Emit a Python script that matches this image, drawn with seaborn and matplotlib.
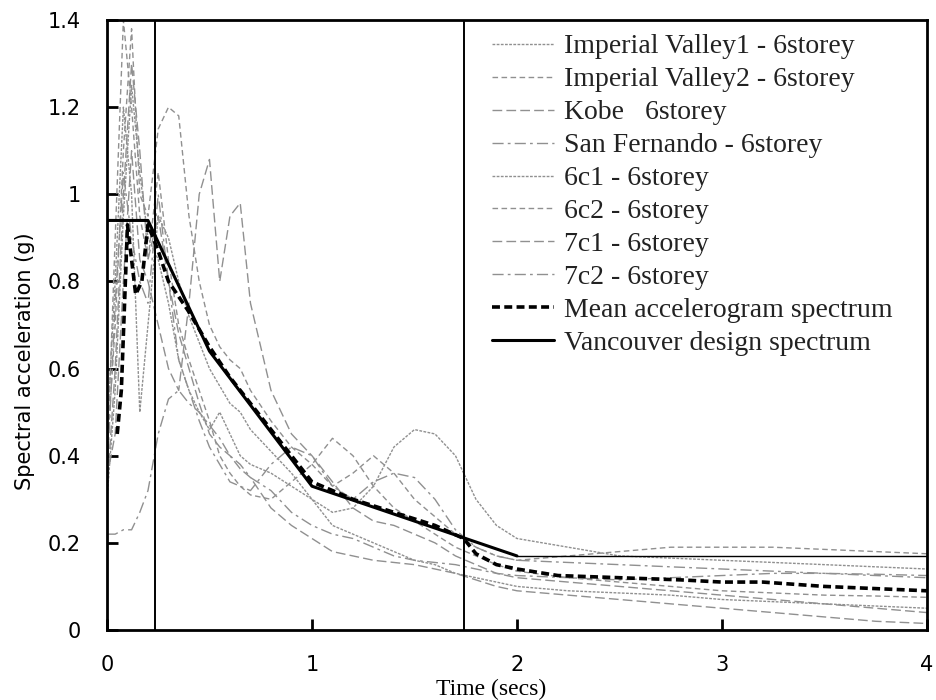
import matplotlib
matplotlib.use("Agg")
import matplotlib.pyplot as plt
import seaborn as sns
import numpy as np

# ---------------- data ----------------
t = [0.0, 0.04, 0.08, 0.12, 0.16, 0.2, 0.25, 0.3, 0.35, 0.4, 0.45, 0.5, 0.55, 0.6,
     0.65, 0.7, 0.8, 0.9, 1.0, 1.1, 1.2, 1.3, 1.4, 1.5, 1.6, 1.7, 1.8, 1.9, 2.0,
     2.25, 2.5, 2.75, 3.0, 3.25, 3.5, 3.75, 4.0]

imperial_valley1 = [0.30, 0.55, 0.95, 1.25, 1.05, 0.90, 0.85, 0.75, 0.62, 0.55, 0.50, 0.46,
                    0.50, 0.45, 0.40, 0.38, 0.36, 0.33, 0.30, 0.27, 0.28, 0.33, 0.42, 0.46,
                    0.45, 0.40, 0.30, 0.24, 0.21, 0.19, 0.17, 0.165, 0.16, 0.155, 0.15,
                    0.145, 0.14]
imperial_valley2 = [0.40, 0.70, 1.10, 1.38, 1.00, 0.95, 1.15, 1.20, 1.18, 0.95, 0.80, 0.70,
                    0.65, 0.62, 0.60, 0.55, 0.48, 0.42, 0.38, 0.33, 0.36, 0.40, 0.36, 0.30,
                    0.26, 0.22, 0.19, 0.17, 0.16, 0.17, 0.18, 0.19, 0.19, 0.19, 0.185,
                    0.18, 0.175]
kobe = [0.35, 0.45, 0.80, 1.10, 0.85, 0.80, 0.70, 0.60, 0.55, 0.75, 1.00, 1.08, 0.80, 0.95,
        0.98, 0.75, 0.55, 0.45, 0.40, 0.34, 0.28, 0.25, 0.24, 0.22, 0.20, 0.17, 0.15, 0.13,
        0.12, 0.11, 0.10, 0.09, 0.08, 0.07, 0.06, 0.05, 0.04]
san_fernando = [0.22, 0.22, 0.23, 0.23, 0.27, 0.32, 0.45, 0.53, 0.55, 0.52, 0.50, 0.47,
                0.44, 0.40, 0.38, 0.35, 0.32, 0.27, 0.24, 0.22, 0.21, 0.19, 0.17, 0.16,
                0.155, 0.15, 0.14, 0.13, 0.125, 0.12, 0.115, 0.12, 0.125, 0.13, 0.13,
                0.125, 0.12]
c6_1 = [0.45, 0.80, 1.20, 1.00, 0.50, 0.70, 0.95, 0.90, 0.80, 0.72, 0.66, 0.60, 0.56, 0.52,
        0.50, 0.46, 0.41, 0.36, 0.30, 0.24, 0.22, 0.20, 0.18, 0.16, 0.15, 0.13, 0.12, 0.11,
        0.10, 0.09, 0.085, 0.08, 0.07, 0.065, 0.06, 0.055, 0.05]
c6_2 = [0.38, 0.90, 1.40, 1.20, 0.95, 0.85, 1.05, 0.85, 0.70, 0.62, 0.55, 0.48, 0.40, 0.36,
        0.33, 0.31, 0.30, 0.34, 0.38, 0.44, 0.40, 0.33, 0.28, 0.25, 0.22, 0.19, 0.17, 0.15,
        0.135, 0.12, 0.11, 0.10, 0.09, 0.085, 0.08, 0.078, 0.075]
c7_1 = [0.32, 0.60, 1.00, 1.30, 1.10, 0.85, 0.95, 0.80, 0.68, 0.60, 0.52, 0.45, 0.42, 0.40,
        0.37, 0.35, 0.28, 0.24, 0.21, 0.18, 0.17, 0.16, 0.155, 0.15, 0.14, 0.13, 0.115, 0.10,
        0.09, 0.08, 0.07, 0.06, 0.05, 0.04, 0.03, 0.02, 0.015]
c7_2 = [0.35, 0.75, 1.05, 0.90, 0.80, 0.75, 1.00, 0.80, 0.62, 0.55, 0.48, 0.42, 0.38, 0.34,
        0.33, 0.32, 0.38, 0.42, 0.40, 0.33, 0.30, 0.34, 0.36, 0.35, 0.30, 0.23, 0.19, 0.17,
        0.16, 0.155, 0.15, 0.145, 0.14, 0.135, 0.13, 0.128, 0.125]

mean_t = [0.05, 0.07, 0.1, 0.14, 0.17, 0.2, 0.25, 0.3, 0.4, 0.5, 0.6, 0.7, 0.8, 0.9, 1.0,
          1.1, 1.2, 1.4, 1.6, 1.74, 1.8, 1.9, 2.0, 2.2, 2.5, 2.8, 3.0, 3.2, 3.5, 4.0]
mean_sa = [0.45, 0.55, 0.93, 0.77, 0.80, 0.93, 0.87, 0.80, 0.73, 0.65, 0.58, 0.52, 0.46,
           0.40, 0.34, 0.32, 0.30, 0.27, 0.24, 0.21, 0.175, 0.15, 0.14, 0.125, 0.12, 0.115,
           0.11, 0.11, 0.10, 0.09]

design_t = [0.0, 0.2, 0.5, 1.0, 2.0]
design_sa = [0.94, 0.94, 0.64, 0.33, 0.17]
design_tail_t = [2.0, 4.0]
design_tail_sa = [0.17, 0.17]

period_bounds = [0.235, 1.74]

labels = ["Imperial Valley1 - 6storey", "Imperial Valley2 - 6storey", "Kobe   6storey",
          "San Fernando - 6storey", "6c1 - 6storey", "6c2 - 6storey", "7c1 - 6storey",
          "7c2 - 6storey", "Mean accelerogram spectrum", "Vancouver design spectrum"]
x_ticks = [0, 1, 2, 3, 4]
y_ticks = [0, 0.2, 0.4, 0.6, 0.8, 1.0, 1.2, 1.4]
y_ticklabels = ["0", "0.2", "0.4", "0.6", "0.8", "1", "1.2", "1.4"]

# ---------------- plot ----------------
sns.set_theme(style="ticks")
plt.rcParams["font.family"] = ["DejaVu Sans"]

fig = plt.figure(figsize=(9.36, 7.0), dpi=100)
ax = fig.add_axes([0.1143, 0.1, 0.876, 0.8714])

gray = "#909090"
styles = [(0, (2, 1)), (0, (4, 2.5)), (0, (7, 3)), (0, (8, 3, 2, 3))]
series = [imperial_valley1, imperial_valley2, kobe, san_fernando, c6_1, c6_2, c7_1, c7_2]
for i, s in enumerate(series):
    sns.lineplot(x=t, y=s, ax=ax, color=gray, linewidth=1.0,
                 linestyle=styles[i % 4], label=labels[i])

for b in period_bounds:
    ax.axvline(b, color="black", linewidth=1.4)

sns.lineplot(x=mean_t, y=mean_sa, ax=ax, color="black", linewidth=2.6,
             linestyle=(0, (2.2, 1.2)), label=labels[8])
sns.lineplot(x=design_t, y=design_sa, ax=ax, color="black", linewidth=2.2,
             label=labels[9])
sns.lineplot(x=design_tail_t, y=design_tail_sa, ax=ax, color="black", linewidth=1.0)

ax.set_xlim(0, 4)
ax.set_ylim(0, 1.4)
ax.set_xticks(x_ticks)
ax.set_yticks(y_ticks)
ax.set_yticklabels(y_ticklabels)
ax.tick_params(axis="both", direction="in", length=8, width=2, color="black")
ax.tick_params(axis="both", labelsize=15, labelcolor="black")
ax.tick_params(axis="x", pad=18)
ax.tick_params(axis="y", pad=19)
for sp in ax.spines.values():
    sp.set_color("black")
    sp.set_linewidth(2.0)

ax.set_xlabel("Time (secs)", fontsize=17, family="Liberation Serif", color="black")
ax.set_ylabel("Spectral acceleration (g)", fontsize=15, color="black")
ax.xaxis.set_label_coords(0.468, -0.08)
ax.yaxis.set_label_coords(-0.088, 0.44)

leg = ax.legend(loc="upper left", bbox_to_anchor=(0.47, 0.977), frameon=False,
                prop={"family": "Liberation Serif", "size": 20},
                handlelength=2.23, handletextpad=0.36, labelspacing=0.27,
                borderpad=0.0, borderaxespad=0.0)
for txt in leg.get_texts():
    txt.set_color("#222222")

fig.savefig("out.png", dpi=100)
